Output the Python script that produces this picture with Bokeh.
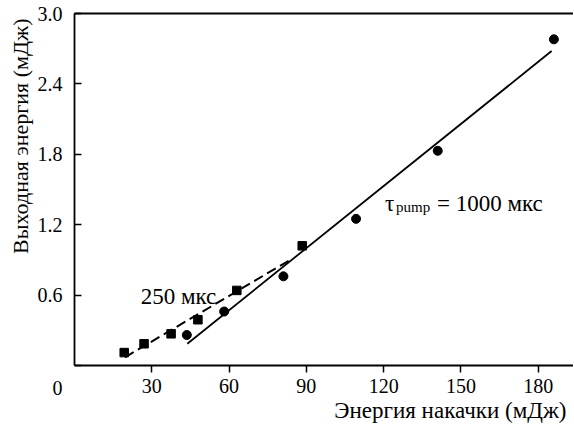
from bokeh.plotting import figure
from bokeh.models import Range1d, LinearAxis, FixedTicker, Label, PrintfTickFormatter, Title
from bokeh.embed import file_html
from bokeh.resources import INLINE

# 250 mks series (squares)
sq_x = [19.3, 27.0, 37.5, 47.9, 63.0, 88.4]
sq_y = [0.11, 0.185, 0.27, 0.39, 0.64, 1.02]
# 1000 mks series (circles)
ci_x = [43.6, 58.1, 81.1, 109.3, 141.0, 186.1]
ci_y = [0.26, 0.46, 0.76, 1.25, 1.83, 2.78]
# fit lines
fit1000_x = [43.8, 185.2]
fit1000_y = [0.185, 2.68]
fit250_x = [19.6, 83.7]
fit250_y = [0.07, 0.90]

x_ticks = [30, 60, 90, 120, 150, 180]
y_ticks = [0, 0.6, 1.2, 1.8, 2.4, 3.0]

FONT = "Liberation Serif"
FS = "20px"
FL = "23px"

p = figure(width=573, height=428, output_backend="svg", toolbar_location=None,
           x_range=Range1d(0, 193.7), y_range=Range1d(0, 3.0),
           min_border_left=74, min_border_right=0, min_border_top=13, min_border_bottom=63)
p.outline_line_color = None
p.xgrid.visible = False
p.ygrid.visible = False
p.background_fill_color = "white"
p.border_fill_color = "white"

xa = p.xaxis[0]
xa.ticker = FixedTicker(ticks=x_ticks)
xa.major_tick_out = 7
xa.major_tick_in = 0
xa.minor_tick_out = 0
xa.minor_tick_in = 0
xa.major_label_standoff = 6
xa.axis_line_width = 1.8
xa.major_tick_line_width = 1.5
xa.major_label_text_font = FONT
xa.major_label_text_font_size = FS
xa.major_label_text_color = "black"

ya = p.yaxis[0]
ya.ticker = FixedTicker(ticks=y_ticks)
ya.formatter = PrintfTickFormatter(format="%.1f")
ya.major_label_overrides = {0: "\u00a0\n\u00a0\n0"}
ya.major_label_text_line_height = 1.0
ya.major_tick_in = 7
ya.major_tick_out = 0
ya.minor_tick_out = 0
ya.minor_tick_in = 0
ya.major_label_standoff = 12
ya.axis_line_width = 1.8
ya.major_tick_line_width = 1.5
ya.major_label_text_font = FONT
ya.major_label_text_font_size = FS
ya.major_label_text_color = "black"

top = LinearAxis(ticker=FixedTicker(ticks=x_ticks), major_tick_out=0, major_tick_in=0,
                 minor_tick_out=0, minor_tick_in=0, major_label_text_font_size="1px",
                 major_label_text_color=None, axis_line_width=1.8, major_label_standoff=0)
p.add_layout(top, "above")

p.add_layout(Title(text="Энергия накачки (мДж)", align="right", text_font=FONT,
                   text_font_size=FL, text_font_style="normal", text_color="black",
                   offset=7, standoff=0), "below")
p.add_layout(Title(text="Выходная энергия (мДж)", align="right", text_font=FONT,
                   text_font_size="22px", text_font_style="normal", text_color="black",
                   offset=5, standoff=4), "left")

p.line(fit1000_x, fit1000_y, line_color="black", line_width=1.8)
p.line(fit250_x, fit250_y, line_color="black", line_width=2, line_dash="10 5")
p.scatter(sq_x, sq_y, marker="square", size=8.5, fill_color="black", line_color="black")
p.scatter(ci_x, ci_y, marker="circle", size=9, fill_color="black", line_color="black")

def lab(x, y, t, size=FL, align="left", baseline="alphabetic"):
    p.add_layout(Label(x=x, y=y, text=t, text_font=FONT, text_font_size=size,
                       text_align=align, text_baseline=baseline, text_color="black"))

lab(25.7, 0.588, "250 мкс")
lab(120.5, 1.378, "τ")
lab(124.8, 1.355, "pump", size="15px")
lab(140.7, 1.378, "= 1000 мкс")

open("out.html", "w").write(file_html(p, INLINE))
